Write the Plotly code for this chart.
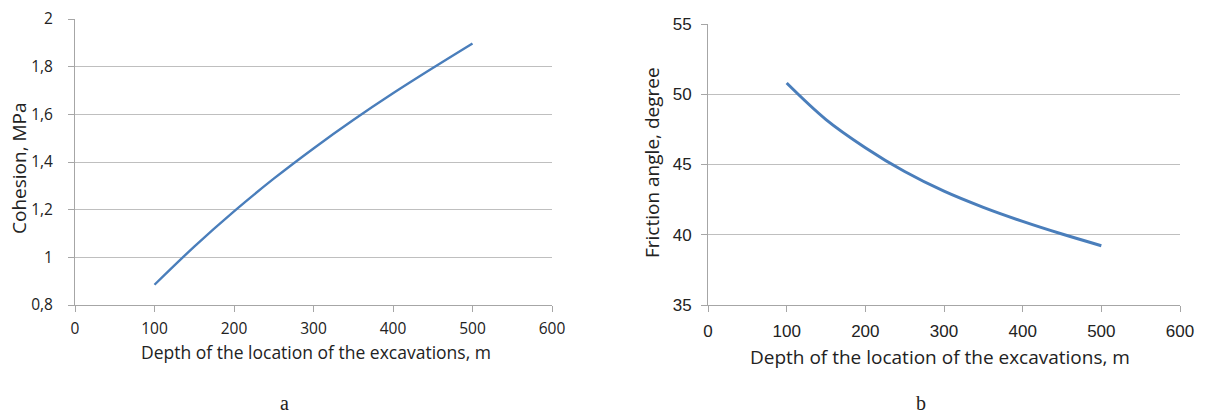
import plotly.graph_objects as go

# Data
depth = [100, 150, 200, 250, 300, 350, 400, 450, 500]
cohesion = [0.885, 1.045, 1.193, 1.33, 1.457, 1.576, 1.688, 1.794, 1.897]
friction = [50.8, 48.2, 46.2, 44.5, 43.1, 41.95, 40.95, 40.05, 39.22]

x_ticks = [0, 100, 200, 300, 400, 500, 600]
coh_ticks = [0.8, 1.0, 1.2, 1.4, 1.6, 1.8, 2.0]
coh_ticktext = ["0,8", "1", "1,2", "1,4", "1,6", "1,8", "2"]
fri_ticks = [35, 40, 45, 50, 55]

W, H = 1208, 414
LINE = "#4a7ebb"
GRID = "#bfbfbf"
AX = "#a6a6a6"
TXT = "#222222"
FONT_A = "Open Sans"
FONT_B_TICK = "Liberation Sans"
FONT_B = "Open Sans"

fig = go.Figure()
fig.add_trace(go.Scatter(x=depth, y=cohesion, mode="lines", line=dict(color=LINE, width=2.4, shape="spline"),
                         xaxis="x", yaxis="y", showlegend=False, hoverinfo="skip"))
fig.add_trace(go.Scatter(x=depth, y=friction, mode="lines", line=dict(color=LINE, width=3, shape="spline"),
                         xaxis="x2", yaxis="y2", showlegend=False, hoverinfo="skip"))


def px(x):
    return x / W


def py(y):
    return 1 - y / H


def xaxis(font, size, standoff):
    return dict(range=[0, 600], tickvals=x_ticks, showgrid=False, zeroline=False,
                showline=True, linecolor=AX, linewidth=1, ticks="outside", ticklen=6,
                tickcolor=AX, tickfont=dict(family=font, size=size, color=TXT),
                ticklabelstandoff=standoff, automargin=False, fixedrange=True)


def yaxis(font, size, standoff):
    return dict(showgrid=True, gridcolor=GRID, gridwidth=1, zeroline=False,
                showline=True, linecolor=AX, linewidth=1, ticks="outside", ticklen=6,
                tickcolor=AX, tickfont=dict(family=font, size=size, color=TXT),
                ticklabelstandoff=standoff, automargin=False, fixedrange=True)


def label(text, x, y, size, font, angle=0):
    return dict(text=text, x=px(x), y=py(y), xref="paper", yref="paper", showarrow=False,
                xanchor="center", yanchor="middle", textangle=angle,
                font=dict(family=font, size=size, color=TXT))


fig.update_layout(
    width=W, height=H, margin=dict(l=0, r=0, t=0, b=0),
    paper_bgcolor="white", plot_bgcolor="white",
    xaxis=dict(domain=[px(75), px(552)], anchor="y", **xaxis(FONT_A, 15.5, 3)),
    yaxis=dict(domain=[py(305), py(19)], anchor="x", range=[0.8, 2.0],
               tickvals=coh_ticks, ticktext=coh_ticktext, **yaxis(FONT_A, 15.5, 12)),
    xaxis2=dict(domain=[px(708), px(1180)], anchor="y2", **xaxis(FONT_B_TICK, 17, 5)),
    yaxis2=dict(domain=[py(305), py(24)], anchor="x2", range=[35, 55],
                tickvals=fri_ticks, **yaxis(FONT_B_TICK, 17, 6)),
    annotations=[
        label("Depth of the location of the excavations, m", 316, 352, 17.5, FONT_A),
        label("Cohesion, MPa", 19, 168, 19, FONT_A, -90),
        label("Depth of the location of the excavations, m", 940, 357, 19, FONT_B),
        label("Friction angle, degree", 652, 163, 19, FONT_B, -90),
        label("a", 284, 403, 20, "Liberation Serif"),
        label("b", 921, 403, 20, "Liberation Serif"),
    ],
)

fig.write_html("out.html", config={"displayModeBar": False},
               post_script="document.body.style.margin='0';")
